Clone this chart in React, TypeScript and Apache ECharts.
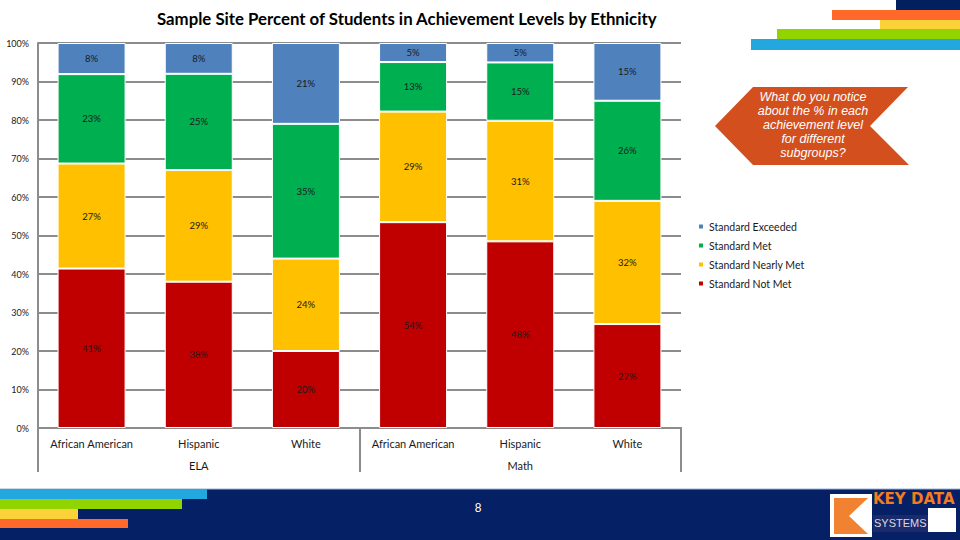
import React, { useEffect, useRef } from "react";
import * as echarts from "echarts";

const categories = ["African American", "Hispanic", "White", "African American", "Hispanic", "White"];
const groups = ["ELA", "Math"];
const seriesNames = ["Standard Not Met", "Standard Nearly Met", "Standard Met", "Standard Exceeded"];
const notMet = [41, 38, 20, 54, 48, 27];
const nearlyMet = [27, 29, 24, 29, 31, 32];
const met = [23, 25, 35, 13, 15, 26];
const exceeded = [8, 8, 21, 5, 5, 15];
const colors = ["#C00000", "#FFC000", "#00B050", "#4F81BD"];
const yTicks = [0, 10, 20, 30, 40, 50, 60, 70, 80, 90, 100];
const title = "Sample Site Percent of Students in Achievement Levels by Ethnicity";
const calloutLines = ["What do you notice", "about the % in each", "achievement level", "for different", "subgroups?"];

export default function App() {
  const ref = useRef<HTMLDivElement>(null);
  useEffect(() => {
    if (!ref.current) return;
    const chart = echarts.init(ref.current, null, { renderer: "svg" });
    const raw = [notMet, nearlyMet, met, exceeded];
    const totals = categories.map((_, i) => raw.reduce((s, a) => s + a[i], 0));
    const font = "Lato, 'Open Sans', sans-serif";

    const series = raw.map((arr, si) => ({
      name: seriesNames[si],
      type: "bar",
      stack: "total",
      barWidth: 68,
      data: arr.map((v, i) => ({ value: (v / totals[i]) * 100, raw: v })),
      itemStyle: { color: colors[si], borderColor: "#ffffff", borderWidth: 1 },
      label: {
        show: true,
        position: "inside",
        fontSize: 9.5,
        fontFamily: font,
        color: "#1a1a1a",
        formatter: (p: any) => `${p.data.raw}%`,
      },
    }));

    const stripeGraphics = [
      // top-right stripes
      { type: "rect", shape: { x: 896, y: 0, width: 64, height: 10 }, style: { fill: "#002060" } },
      { type: "rect", shape: { x: 832, y: 10, width: 128, height: 10 }, style: { fill: "#FF6A2B" } },
      { type: "rect", shape: { x: 880, y: 20, width: 80, height: 9 }, style: { fill: "#FCD23B" } },
      { type: "rect", shape: { x: 777, y: 29, width: 183, height: 10 }, style: { fill: "#92D400" } },
      { type: "rect", shape: { x: 751, y: 39, width: 209, height: 11 }, style: { fill: "#22A7DF" } },
      // footer
      { type: "rect", shape: { x: 0, y: 489, width: 960, height: 51 }, style: { fill: "#052064" } },
      { type: "line", shape: { x1: 0, y1: 489, x2: 960, y2: 489 }, style: { stroke: "#9DB3D6", lineWidth: 1 } },
      { type: "rect", shape: { x: 0, y: 489, width: 207, height: 10 }, style: { fill: "#22A7DF" } },
      { type: "rect", shape: { x: 0, y: 499, width: 182, height: 10 }, style: { fill: "#92D400" } },
      { type: "rect", shape: { x: 0, y: 509, width: 78, height: 10 }, style: { fill: "#FCD23B" } },
      { type: "rect", shape: { x: 0, y: 519, width: 128, height: 9 }, style: { fill: "#FF6A2B" } },
      { type: "text", x: 478, y: 508, style: { text: "8", fill: "#ffffff", fontSize: 12, fontFamily: "'Liberation Sans', sans-serif", align: "center", verticalAlign: "middle" } },
      // logo
      { type: "rect", shape: { x: 830, y: 494, width: 42, height: 43 }, style: { fill: "#ffffff" } },
      { type: "polygon", shape: { points: [[834, 498], [868, 498], [849, 516], [868, 534], [834, 534]] }, style: { fill: "#F08232" } },
      { type: "text", x: 873, y: 499, style: { text: "KEY DATA", fill: "#F47B20", fontSize: 15, fontWeight: 900, fontFamily: "'DejaVu Sans', sans-serif", verticalAlign: "middle" } },
      { type: "rect", shape: { x: 873, y: 515, width: 55, height: 17 }, style: { fill: "#1B2A6B" } },
      { type: "rect", shape: { x: 928, y: 508, width: 28, height: 24 }, style: { fill: "#ffffff" } },
      { type: "text", x: 874, y: 523, style: { text: "SYSTEMS", fill: "#D8D8E0", fontSize: 11, fontFamily: "'Liberation Sans', sans-serif", verticalAlign: "middle" } },
      // callout
      { type: "polygon", shape: { points: [[753, 87], [908, 87], [870, 126], [909, 165], [753, 165], [715, 126]] }, style: { fill: "#D34F1E" } },
      ...calloutLines.map((t, i) => ({
        type: "text",
        x: 813,
        y: 97 + i * 14,
        style: { text: t, fill: "#ffffff", fontSize: 12.5, fontStyle: "italic", fontFamily: "'Liberation Sans', sans-serif", align: "center", verticalAlign: "middle" },
      })),
    ];

    chart.setOption({
      animation: false,
      backgroundColor: "#ffffff",
      title: {
        text: title,
        left: 152,
        top: 5,
        textStyle: { fontSize: 16.8, fontWeight: "bold", fontFamily: font, color: "#000000" },
      },
      legend: {
        orient: "vertical",
        left: 692,
        top: 216,
        itemWidth: 6,
        itemHeight: 6,
        itemGap: 8,
        icon: "rect",
        data: ["Standard Exceeded", "Standard Met", "Standard Nearly Met", "Standard Not Met"],
        textStyle: { fontSize: 10.5, fontFamily: font, color: "#1a1a1a" },
      },
      grid: { left: 38, right: 279, top: 43, bottom: 112, containLabel: false },
      xAxis: [
        {
          type: "category",
          data: categories,
          position: "bottom",
          axisLine: { show: true, lineStyle: { color: "#8C8C8C", width: 2 } },
          axisTick: { show: false },
          axisLabel: { fontSize: 11, fontFamily: font, color: "#1a1a1a", margin: 10, interval: 0 },
        },
        {
          type: "category",
          data: groups,
          position: "bottom",
          axisLine: { show: true, lineStyle: { color: "#8C8C8C", width: 2 } },
          axisTick: { show: true, length: 44, lineStyle: { color: "#8C8C8C", width: 2 } },
          axisLabel: { fontSize: 11, fontFamily: font, color: "#1a1a1a", margin: 32 },
        },
      ],
      yAxis: {
        type: "value",
        min: yTicks[0],
        max: yTicks[yTicks.length - 1],
        interval: 10,
        axisLine: { show: true, lineStyle: { color: "#8C8C8C", width: 2 } },
        axisTick: { show: false },
        axisLabel: { formatter: "{value}%", fontSize: 9, fontFamily: font, color: "#1a1a1a", margin: 9 },
        splitLine: { show: true, lineStyle: { color: "#8C8C8C", width: 2 } },
      },
      series,
      graphic: stripeGraphics,
    });
    return () => chart.dispose();
  }, []);
  return <div ref={ref} style={{ position: "fixed", left: 0, top: 0, width: 960, height: 540 }} />;
}
